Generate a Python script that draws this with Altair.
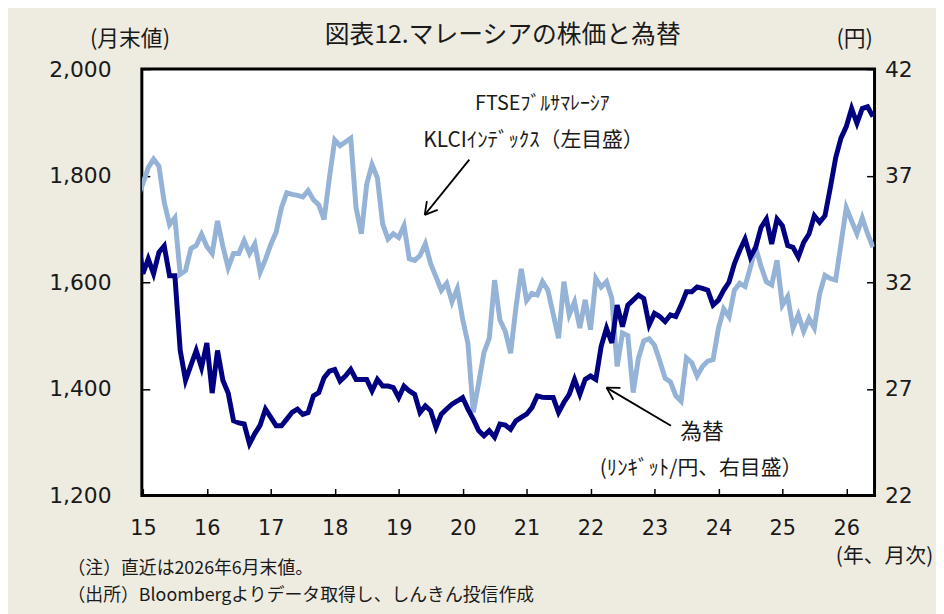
import altair as alt
import pandas as pd

# ---- data (month-end values, Dec 2014 .. Jun 2026) ----
start_month = "2014-12"
klci = [1761,
    1785, 1815, 1831, 1818, 1750, 1708, 1721, 1615, 1622, 1663, 1669, 1690,   # 2015
    1667, 1654, 1715, 1668, 1627, 1654, 1654, 1678, 1654, 1672, 1619, 1643,   # 2016
    1671, 1694, 1740, 1768, 1765, 1763, 1760, 1772, 1755, 1745, 1718, 1796,   # 2017
    1867, 1856, 1863, 1870, 1740, 1691, 1784, 1821, 1796, 1709, 1681, 1691,   # 2018
    1684, 1706, 1644, 1641, 1650, 1672, 1635, 1610, 1585, 1598, 1563, 1588,   # 2019
    1531, 1485, 1356, 1410, 1468, 1495, 1604, 1529, 1508, 1467, 1552, 1625,   # 2020
    1566, 1579, 1576, 1601, 1585, 1540, 1495, 1601, 1539, 1563, 1514, 1567,   # 2021
    1511, 1607, 1591, 1601, 1570, 1442, 1505, 1500, 1393, 1458, 1490, 1494,   # 2022
    1482, 1452, 1420, 1413, 1387, 1377, 1458, 1449, 1424, 1442, 1452, 1455,   # 2023
    1513, 1550, 1535, 1585, 1598, 1592, 1628, 1665, 1630, 1601, 1595, 1641,   # 2024
    1557, 1573, 1514, 1539, 1508, 1532, 1514, 1579, 1613, 1607, 1604, 1672,   # 2025
    1740, 1715, 1691, 1721, 1691, 1666]                                       # 2026
fx = [34.2,
    32.4, 33.1, 32.4, 33.4, 33.7, 32.3, 32.3, 28.8, 27.4, 28.1, 28.8, 28.0,
    29.15, 26.8, 28.8, 27.4, 26.8, 25.5, 25.4, 25.35, 24.42, 24.9, 25.3, 26.05,
    25.66, 25.27, 25.27, 25.58, 25.9, 26.05, 25.8, 25.89, 26.67, 26.82, 27.52, 27.83,
    27.91, 27.36, 27.6, 27.91, 27.44, 27.44, 27.44, 26.9, 27.44, 27.13, 27.13, 27.06,
    26.59, 27.13, 26.9, 26.74, 25.89, 26.2, 25.97, 25.19, 25.81, 26.05, 26.28, 26.43,
    26.59, 26.05, 25.58, 25.04, 24.8, 25.04, 24.73, 25.35, 25.3, 25.1, 25.5, 25.66,
    25.81, 26.12, 26.67, 26.6, 26.59, 26.59, 25.89, 26.36, 26.74, 27.44, 26.74, 27.44,
    27.6, 27.44, 28.99, 29.84, 29.15, 30.93, 29.92, 30.93, 31.16, 31.4, 31.24, 30.0,
    30.54, 30.39, 30.15, 30.47, 30.39, 30.93, 31.55, 31.55, 31.78, 31.71, 31.63, 30.93,
    31.16, 31.63, 32.01, 32.87, 33.49, 34.03, 33.18, 33.64, 34.57, 34.96, 33.8, 34.96,
    34.65, 33.72, 33.64, 33.18, 33.87, 34.26, 35.12, 34.81, 35.12, 36.43, 37.83, 38.76,
    39.3, 40.15, 39.46, 40.15, 40.23, 39.77]
year_labels = ["15", "16", "17", "18", "19", "20", "21", "22", "23", "24", "25", "26"]
left_ticks = [1200, 1400, 1600, 1800, 2000]
right_ticks = [22, 27, 32, 37, 42]

months = pd.period_range(start_month, periods=len(klci), freq="M")
df = pd.DataFrame({
    "t": [(p.year - 2015) * 12 + p.month - 1 for p in months],
    "klci": klci,
    "fx": fx,
})

W, H = 739, 430
BG = "#EEECE1"
JP = "Noto Sans CJK JP"
NUM = "DejaVu Sans"
LIGHT = "#95B3D7"
NAVY = "#000080"
TXT = "#1a1a1a"

# ticks point into the plot: the axis is moved inside by its tick length
xenc = alt.X("t:Q",
             scale=alt.Scale(domain=[-0.2, 137.3], nice=False, zero=False),
             axis=alt.Axis(values=[12 * i for i in range(len(year_labels))],
                           labelExpr=f"{year_labels}[round(datum.value / 12)]",
                           offset=-7, ticks=True, tickSize=7, tickWidth=1.5,
                           tickColor="black", domain=False, grid=False, title=None,
                           labelFont=NUM, labelFontSize=21, labelColor=TXT,
                           labelPadding=22, labelFlush=False, labelOverlap=False))

base = alt.Chart(df)
klci_line = base.mark_line(color=LIGHT, strokeWidth=5, clip=True).encode(
    x=xenc,
    y=alt.Y("klci:Q", scale=alt.Scale(domain=[1200, 2000], nice=False, zero=False),
            axis=alt.Axis(values=left_ticks, format=",.0f", offset=-8, ticks=True,
                          tickSize=8, tickWidth=1.5, tickColor="black",
                          domain=False, grid=False, title=None, labelFont=NUM,
                          labelFontSize=22, labelColor=TXT, labelPadding=31,
                          orient="left")))

fx_line = base.mark_line(color=NAVY, strokeWidth=5, clip=True).encode(
    x=alt.X("t:Q"),
    y=alt.Y("fx:Q", scale=alt.Scale(domain=[22, 42], nice=False, zero=False),
            axis=alt.Axis(values=right_ticks, format=".0f", offset=-8, ticks=True,
                          tickSize=8, tickWidth=1.5, tickColor="black", domain=False,
                          grid=False, title=None, labelFont=NUM, labelFontSize=22,
                          labelColor=TXT, labelPadding=10, orient="right")))

one = pd.DataFrame({"a": [0]})


def seg(x1, y1, x2, y2):
    return alt.Chart(one).mark_rule(color="black", strokeWidth=1.8).encode(
        x=alt.value(x1), y=alt.value(y1), x2=alt.value(x2), y2=alt.value(y2))


def txt(s, x, y, size, align="center", font=JP, color=TXT):
    return alt.Chart(pd.DataFrame({"s": [s]})).mark_text(
        align=align, baseline="middle", font=font, fontSize=size, color=color).encode(
        x=alt.value(x), y=alt.value(y), text="s:N")


annotations = [
    txt("図表12.マレーシアの株価と為替", 364, -34, 25),
    txt("(月末値)", -12, -30, 22),
    txt("(円)", 719, -30, 22),
    txt("FTSEﾌﾞﾙｻﾏﾚｰｼｱ", 404, 35, 20),
    txt("KLCIｲﾝﾃﾞｯｸｽ（左目盛）", 395, 73, 21),
    txt("為替", 565, 366, 22),
    txt("(ﾘﾝｷﾞｯﾄ/円、右目盛）", 564, 403, 21),
    txt("(年、月次)", 700, 492, 21, align="left"),
    txt("（注）直近は2026年6月末値。", -75, 504, 18, align="left"),
    txt("（出所）Bloombergよりデータ取得し、しんきん投信作成", -75, 531, 18, align="left"),
    # arrow to KLCI line
    seg(330.3, 91.3, 285.3, 147), seg(285.3, 147, 298.4, 142), seg(285.3, 147, 287.5, 133.2),
    # arrow to exchange-rate line
    seg(533.7, 359.7, 468.7, 321.3), seg(468.7, 321.3, 475.6, 333.5), seg(468.7, 321.3, 482.7, 321.5),
]

chart = alt.layer(klci_line, fx_line, *annotations).resolve_scale(
    y="independent"
).properties(
    width=W, height=H,
    autosize=alt.AutoSizeParams(type="none"),
    padding={"left": 135, "top": 59, "right": 62, "bottom": 117},
    background=BG,
).configure_view(stroke="black", strokeWidth=3, fill="white")

chart.save("out.html", embed_options={"renderer": "svg", "actions": False})
